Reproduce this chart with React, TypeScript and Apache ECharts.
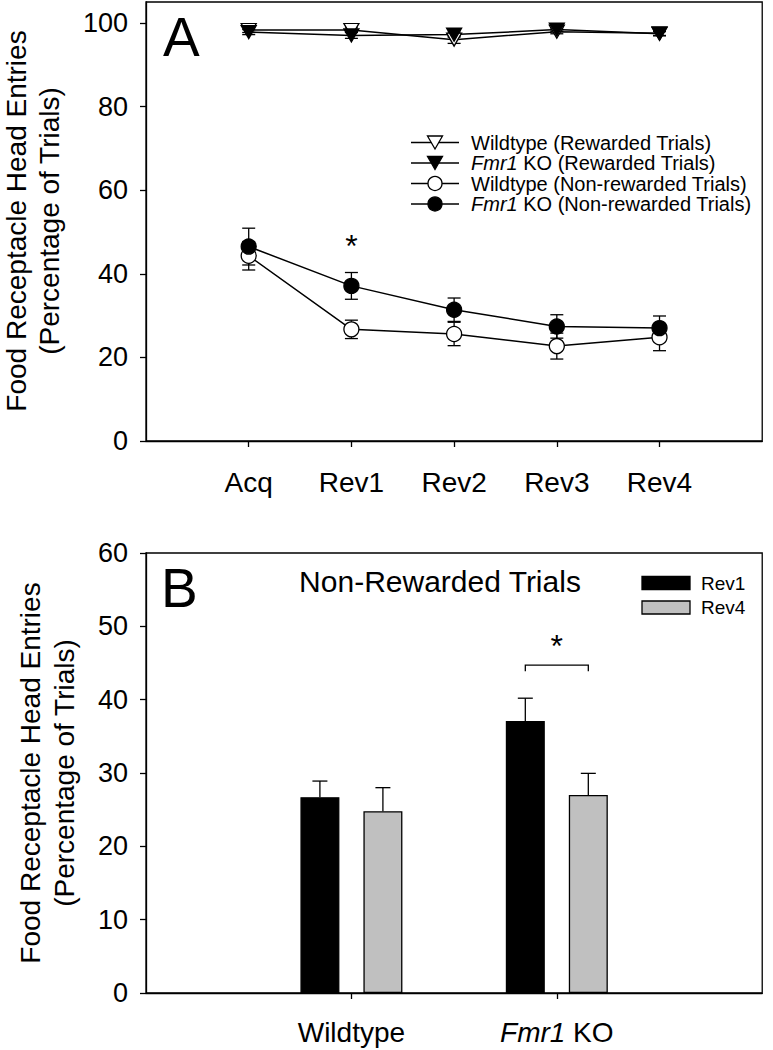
import React, { useEffect, useRef } from 'react';
import * as echarts from 'echarts';

const FONT = '"Liberation Sans", Arial, Helvetica, sans-serif';

// ---------- Panel A data ----------
const categories = ['Acq', 'Rev1', 'Rev2', 'Rev3', 'Rev4'];
const yTicksA = [0, 20, 40, 60, 80, 100];
const wtRewarded = [98.3, 98.3, 96.0, 97.9, 97.5];
const wtRewardedSem = [0.6, 0.5, 0.9, 0.5, 0.5];
const koRewarded = [97.8, 97.0, 97.2, 98.4, 97.4];
const koRewardedSem = [0.6, 0.7, 0.6, 0.4, 0.5];
const wtNonRewarded = [44.3, 26.7, 25.6, 22.7, 24.8];
const wtNonRewardedSem = [3.4, 2.2, 2.8, 3.1, 3.2];
const koNonRewarded = [46.5, 37.1, 31.4, 27.4, 27.0];
const koNonRewardedSem = [4.4, 3.2, 2.8, 2.8, 2.9];
const starACategory = 'Rev1';
const starAValue = 48.3;

const legendALabels = [
  'Wildtype (Rewarded Trials)',
  '{i|Fmr1} KO (Rewarded Trials)',
  'Wildtype (Non-rewarded Trials)',
  '{i|Fmr1} KO (Non-rewarded Trials)',
];

// ---------- Panel B data ----------
const groups = ['Wildtype', 'Fmr1 KO'];
const yTicksB = [0, 10, 20, 30, 40, 50, 60];
const rev1Values = [26.7, 37.1];
const rev1Sem = [2.2, 3.1];
const rev4Values = [24.8, 27.0];
const rev4Sem = [3.2, 2.95];
const bracketGroup = 'Fmr1 KO';
const bracketValue = 44.7;
const starBValue = 48.3;

// ---------- style constants ----------
const LW = 1.3;
const BAR_W = 39;
const BAR_GAP_PX = 24;
const BAR_OFFSET = (BAR_W + BAR_GAP_PX) / 2;

const padA = [' ', ...categories, '  '];
const padB = [' ', ...groups, '  '];

function errorBars(values: number[], sems: number[], xi: number, capW: number, offset: number, both: boolean, z: number) {
  return {
    type: 'custom',
    xAxisIndex: xi,
    yAxisIndex: xi,
    z,
    silent: true,
    data: values.map((v, i) => [i + 1, v, sems[i]]),
    encode: { x: 0, y: 1 },
    renderItem: (_p: any, api: any) => {
      const x = api.value(0);
      const m = api.value(1);
      const s = api.value(2);
      const top = api.coord([x, m + s]);
      const bot = api.coord([x, both ? m - s : m]);
      const cx = top[0] + offset;
      const st = { stroke: '#000', lineWidth: LW, fill: null };
      const children: any[] = [
        { type: 'line', shape: { x1: cx, y1: top[1], x2: cx, y2: bot[1] }, style: st },
        { type: 'line', shape: { x1: cx - capW / 2, y1: top[1], x2: cx + capW / 2, y2: top[1] }, style: st },
      ];
      if (both) {
        children.push({ type: 'line', shape: { x1: cx - capW / 2, y1: bot[1], x2: cx + capW / 2, y2: bot[1] }, style: st });
      }
      return { type: 'group', children };
    },
  };
}

function starSeries(xi: number, idx: number, value: number) {
  return {
    type: 'custom',
    xAxisIndex: xi,
    yAxisIndex: xi,
    z: 5,
    silent: true,
    data: [[idx, value]],
    encode: { x: 0, y: 1 },
    renderItem: (_p: any, api: any) => {
      const p = api.coord([api.value(0), api.value(1)]);
      return {
        type: 'text',
        x: p[0],
        y: p[1] + 7,
        style: {
          text: '*',
          fontSize: 32,
          fontFamily: FONT,
          fill: '#000',
          align: 'center',
          verticalAlign: 'middle',
          textAlign: 'center',
          textVerticalAlign: 'middle',
        },
      };
    },
  };
}

function lineSeries(name: string, values: number[], symbol: string, filled: boolean) {
  return {
    type: 'line',
    name,
    xAxisIndex: 0,
    yAxisIndex: 0,
    z: 3,
    silent: true,
    data: values.map((v, i) => [i + 1, v]),
    symbol,
    symbolRotate: symbol === 'triangle' ? 180 : 0,
    symbolSize: symbol === 'triangle' ? [15, 13] : 15,
    showAllSymbol: true,
    lineStyle: { color: '#000', width: 1.5 },
    itemStyle: { color: filled ? '#000' : '#fff', borderColor: '#000', borderWidth: LW },
  };
}

function buildOption() {
  const axisLine = { show: true, onZero: false, lineStyle: { color: '#000', width: LW } };
  const tickStyle = { color: '#000', width: LW };
  const catLabel = {
    interval: 0,
    margin: 27,
    color: '#000',
    fontSize: 28,
    fontFamily: FONT,
    formatter: (v: string) => (v === 'Fmr1 KO' ? '{i|Fmr1} KO' : v),
    rich: { i: { fontStyle: 'italic', fontSize: 28, fontFamily: FONT, color: '#000' } },
  };
  const valLabel = { margin: 18, color: '#000', fontSize: 27, fontFamily: FONT };

  const graphics: any[] = [];
  // y-axis titles
  const yTitle = (x1: number, x2: number, y: number) => {
    graphics.push({
      type: 'text', x: x1, y, rotation: Math.PI / 2,
      style: { text: 'Food Receptacle Head Entries', fontSize: 28, fontFamily: FONT, fill: '#000', align: 'center', verticalAlign: 'middle', textAlign: 'center', textVerticalAlign: 'middle' },
    });
    graphics.push({
      type: 'text', x: x2, y, rotation: Math.PI / 2,
      style: { text: '(Percentage of Trials)', fontSize: 28, fontFamily: FONT, fill: '#000', align: 'center', verticalAlign: 'middle', textAlign: 'center', textVerticalAlign: 'middle' },
    });
  };
  yTitle(16, 49, 221);
  yTitle(30, 64, 773);

  // panel letters & title
  graphics.push({ type: 'text', x: 163, y: 37, style: { text: 'A', fontSize: 55, fontFamily: FONT, fill: '#000', align: 'left', verticalAlign: 'middle', textAlign: 'left', textVerticalAlign: 'middle' } });
  graphics.push({ type: 'text', x: 161, y: 588, style: { text: 'B', fontSize: 55, fontFamily: FONT, fill: '#000', align: 'left', verticalAlign: 'middle', textAlign: 'left', textVerticalAlign: 'middle' } });
  graphics.push({ type: 'text', x: 440, y: 581, style: { text: 'Non-Rewarded Trials', fontSize: 30, fontFamily: FONT, fill: '#000', align: 'center', verticalAlign: 'middle', textAlign: 'center', textVerticalAlign: 'middle' } });

  // legend A
  legendALabels.forEach((label, i) => {
    const y = 142.5 + i * 20.5;
    const tri = i < 2;
    const filled = i % 2 === 1;
    graphics.push({ type: 'line', shape: { x1: 411, y1: y, x2: 459, y2: y }, style: { stroke: '#000', lineWidth: LW } });
    if (tri) {
      graphics.push({
        type: 'polygon',
        shape: { points: [[435 - 7.5, y - 6.5], [435 + 7.5, y - 6.5], [435, y + 6.5]] },
        style: { fill: filled ? '#000' : '#fff', stroke: '#000', lineWidth: LW },
      });
    } else {
      graphics.push({ type: 'circle', shape: { cx: 435, cy: y, r: 7 }, style: { fill: filled ? '#000' : '#fff', stroke: '#000', lineWidth: LW } });
    }
    graphics.push({
      type: 'text', x: 471, y,
      style: {
        text: label, fontSize: 20, fontFamily: FONT, fill: '#000',
        align: 'left', verticalAlign: 'middle', textAlign: 'left', textVerticalAlign: 'middle',
        rich: { i: { fontStyle: 'italic', fontSize: 20, fontFamily: FONT, fill: '#000', color: '#000' } },
      },
    });
  });

  // legend B
  [['Rev1', '#000', 583], ['Rev4', '#c0c0c0', 607.5]].forEach(([name, color, y]: any) => {
    graphics.push({ type: 'rect', shape: { x: 642, y: y - 6.5, width: 48, height: 13 }, style: { fill: color, stroke: '#000', lineWidth: LW } });
    graphics.push({ type: 'text', x: 701, y, style: { text: name, fontSize: 19, fontFamily: FONT, fill: '#000', align: 'left', verticalAlign: 'middle', textAlign: 'left', textVerticalAlign: 'middle' } });
  });

  const bracketIdx = groups.indexOf(bracketGroup) + 1;

  return {
    animation: false,
    backgroundColor: '#fff',
    grid: [
      { left: 146, right: 3, top: 2, height: 439, show: true, borderColor: '#000', borderWidth: LW, backgroundColor: 'transparent' },
      { left: 146, right: 3, top: 553, height: 440, show: true, borderColor: '#000', borderWidth: LW, backgroundColor: 'transparent' },
    ],
    xAxis: [
      {
        type: 'category', gridIndex: 0, data: padA, boundaryGap: false,
        axisLine,
        axisTick: { show: true, length: 6, interval: (i: number) => i >= 1 && i <= categories.length, lineStyle: tickStyle },
        axisLabel: catLabel,
        splitLine: { show: false },
      },
      {
        type: 'category', gridIndex: 1, data: padB, boundaryGap: false,
        axisLine,
        axisTick: { show: true, length: 6, interval: (i: number) => i >= 1 && i <= groups.length, lineStyle: tickStyle },
        axisLabel: { ...catLabel, margin: 25 },
        splitLine: { show: false },
      },
    ],
    yAxis: [
      {
        type: 'value', gridIndex: 0, min: 0, max: 105, interval: 20,
        axisLine,
        axisTick: { show: true, length: 6, lineStyle: tickStyle, customValues: yTicksA },
        axisLabel: { ...valLabel, customValues: yTicksA, formatter: (v: number) => (v % 20 === 0 ? String(v) : '') },
        splitLine: { show: false },
      },
      {
        type: 'value', gridIndex: 1, min: 0, max: 60, interval: 10,
        axisLine,
        axisTick: { show: true, length: 6, lineStyle: tickStyle, customValues: yTicksB },
        axisLabel: { ...valLabel, customValues: yTicksB },
        splitLine: { show: false },
      },
    ],
    graphic: graphics,
    series: [
      errorBars(wtRewarded, wtRewardedSem, 0, 13, 0, true, 2),
      errorBars(koRewarded, koRewardedSem, 0, 13, 0, true, 2),
      errorBars(wtNonRewarded, wtNonRewardedSem, 0, 13, 0, true, 2),
      errorBars(koNonRewarded, koNonRewardedSem, 0, 13, 0, true, 2),
      lineSeries('Wildtype (Rewarded Trials)', wtRewarded, 'triangle', false),
      lineSeries('Fmr1 KO (Rewarded Trials)', koRewarded, 'triangle', true),
      lineSeries('Wildtype (Non-rewarded Trials)', wtNonRewarded, 'circle', false),
      lineSeries('Fmr1 KO (Non-rewarded Trials)', koNonRewarded, 'circle', true),
      starSeries(0, categories.indexOf(starACategory) + 1, starAValue),
      {
        type: 'bar', name: 'Rev1', xAxisIndex: 1, yAxisIndex: 1, silent: true,
        data: groups.map((_g, i) => [i + 1, rev1Values[i]]),
        barWidth: BAR_W, barGap: `${(BAR_GAP_PX / BAR_W) * 100}%`,
        itemStyle: { color: '#000', borderColor: '#000', borderWidth: LW },
        z: 2,
      },
      {
        type: 'bar', name: 'Rev4', xAxisIndex: 1, yAxisIndex: 1, silent: true,
        data: groups.map((_g, i) => [i + 1, rev4Values[i]]),
        barWidth: BAR_W, barGap: `${(BAR_GAP_PX / BAR_W) * 100}%`,
        itemStyle: { color: '#c0c0c0', borderColor: '#000', borderWidth: LW },
        z: 2,
      },
      errorBars(rev1Values, rev1Sem, 1, 15, -BAR_OFFSET, false, 3),
      errorBars(rev4Values, rev4Sem, 1, 15, BAR_OFFSET, false, 3),
      {
        type: 'custom', xAxisIndex: 1, yAxisIndex: 1, z: 4, silent: true,
        data: [[bracketIdx, bracketValue]],
        encode: { x: 0, y: 1 },
        renderItem: (_p: any, api: any) => {
          const p = api.coord([api.value(0), api.value(1)]);
          const l = p[0] - BAR_OFFSET;
          const r = p[0] + BAR_OFFSET;
          return {
            type: 'polyline',
            shape: { points: [[l, p[1] + 6], [l, p[1]], [r, p[1]], [r, p[1] + 6]] },
            style: { stroke: '#000', lineWidth: LW, fill: null },
          };
        },
      },
      starSeries(1, bracketIdx, starBValue),
    ],
  };
}

export default function App() {
  const ref = useRef<HTMLDivElement>(null);
  useEffect(() => {
    if (!ref.current) return;
    const chart = echarts.init(ref.current, null, { renderer: 'svg' });
    chart.setOption(buildOption() as any);
    return () => chart.dispose();
  }, []);
  return (
    <div
      ref={ref}
      style={{ position: 'absolute', left: 0, top: 0, width: 773, height: 1050, background: '#fff' }}
    />
  );
}
